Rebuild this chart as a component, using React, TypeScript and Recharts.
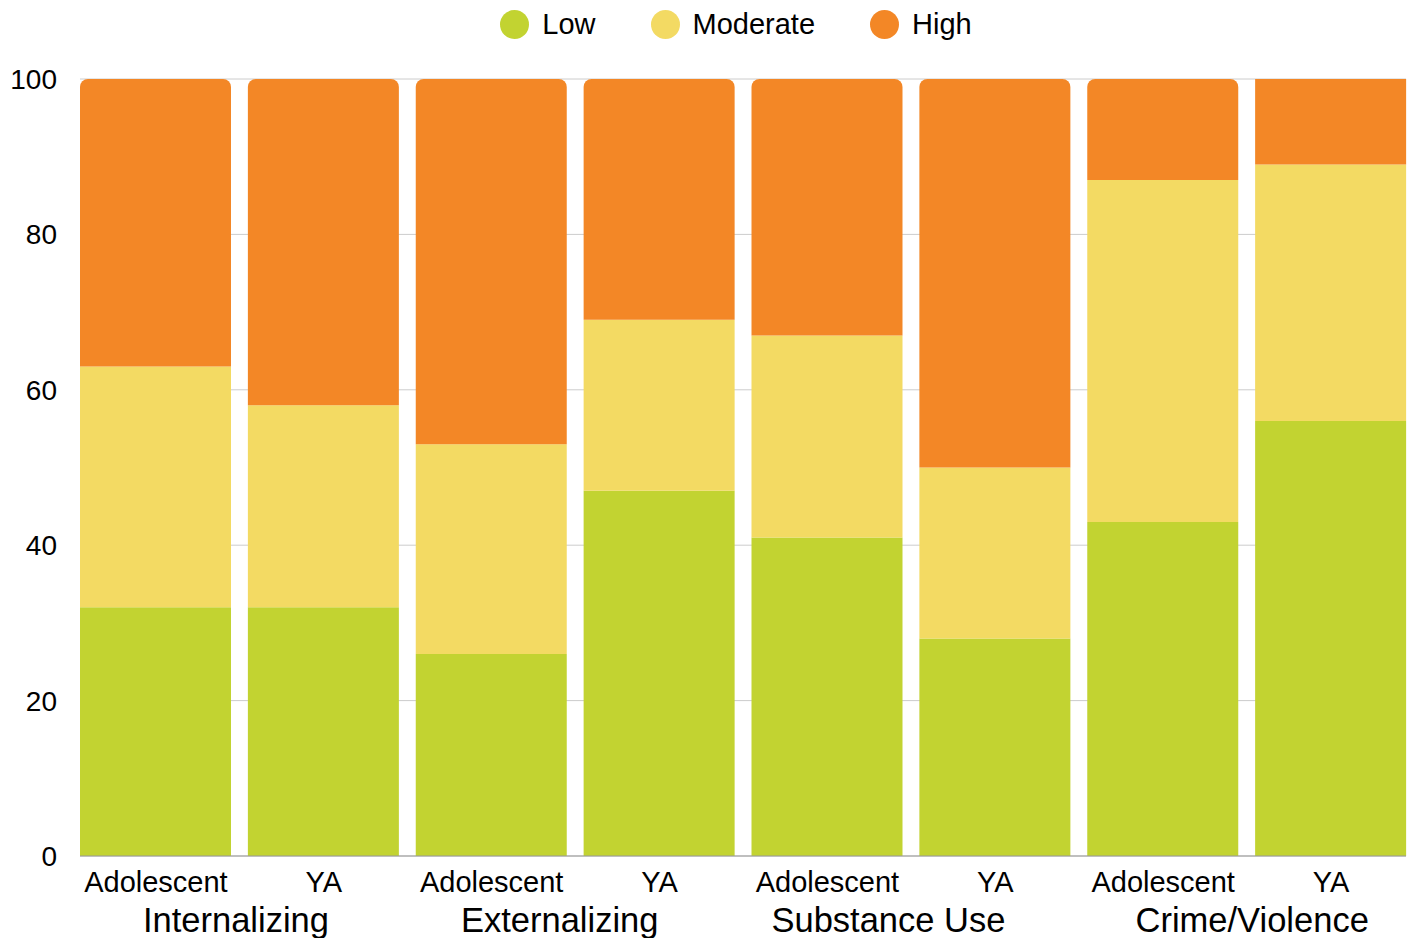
import React from 'react';
import { BarChart, Bar, XAxis, YAxis, CartesianGrid, Legend, Rectangle } from 'recharts';

const groups = ['Internalizing', 'Internalizing', 'Externalizing', 'Externalizing', 'Substance Use', 'Substance Use', 'Crime/Violence', 'Crime/Violence'];
const subgroups = ['Adolescent', 'YA', 'Adolescent', 'YA', 'Adolescent', 'YA', 'Adolescent', 'YA'];
const lowValues = [32, 32, 26, 47, 41, 28, 43, 56];
const moderateValues = [31, 26, 27, 22, 26, 22, 44, 33];
const highValues = [37, 42, 47, 31, 33, 50, 13, 11];
const yTicks = [0, 20, 40, 60, 80, 100];

// horizontal offset of each group label from the first bar's centre (layout only)
const groupLabelShift = [80, 68, 61, 89];

const seriesNames = ['Low', 'Moderate', 'High'];
const COLORS = { Low: '#C2D331', Moderate: '#F3DA63', High: '#F38726' };
const FONT = '"Liberation Sans", Arial, sans-serif';

const data = subgroups.map((s, i) => ({
  sub: s,
  group: groups[i],
  Low: lowValues[i],
  Moderate: moderateValues[i],
  High: highValues[i],
}));

const HighShape = (props: any) => {
  const last = props.index === data.length - 1;
  return <Rectangle {...props} radius={last ? 0 : [8, 8, 0, 0]} />;
};

const GroupTick = (props: any) => {
  const { x, y, payload, index } = props;
  const idx = payload && payload.index !== undefined ? payload.index : index;
  if (idx % 2 !== 0) return null;
  const shift = groupLabelShift[Math.floor(idx / 2)] ?? 84;
  return (
    <text x={x + shift} y={y} dy="0.71em" textAnchor="middle" fill="#000" fontSize={34.5} fontFamily={FONT}>
      {payload.value}
    </text>
  );
};

const LegendContent = () => (
  <div style={{ display: 'flex', justifyContent: 'center', alignItems: 'center', height: 48, paddingLeft: 61, fontFamily: FONT }}>
    {seriesNames.map((n, i) => (
      <div key={n} style={{ display: 'flex', alignItems: 'center', marginRight: i < seriesNames.length - 1 ? 55 : 0 }}>
        <span style={{ display: 'inline-block', width: 29, height: 29, borderRadius: '50%', background: (COLORS as any)[n], marginRight: 13 }} />
        <span style={{ fontSize: 29, color: '#000', lineHeight: '29px' }}>{n}</span>
      </div>
    ))}
  </div>
);

export default function App() {
  return (
    <div style={{ position: 'absolute', left: 0, top: 0, width: 1411, height: 938, background: '#fff' }}>
      <BarChart width={1411} height={938} data={data} margin={{ top: 31, right: 5, bottom: 0, left: 0 }}>
        <CartesianGrid vertical={false} stroke="#cccccc" />
        <Legend verticalAlign="top" content={<LegendContent />} wrapperStyle={{ top: 0, left: 0, width: 1411 }} />
        <YAxis
          domain={[0, 100]}
          ticks={yTicks}
          width={80}
          axisLine={false}
          tickLine={false}
          tickMargin={17}
          tick={{ fill: '#000', fontSize: 28, fontFamily: FONT }}
        />
        <XAxis
          dataKey="sub"
          interval={0}
          height={44}
          padding={{ left: -8, right: -9 }}
          axisLine={{ stroke: '#999' }}
          tickLine={false}
          tickMargin={9}
          tick={{ fill: '#000', fontSize: 29, fontFamily: FONT }}
        />
        <XAxis
          xAxisId="grp"
          dataKey="group"
          interval={0}
          height={38}
          padding={{ left: -8, right: -9 }}
          axisLine={false}
          tickLine={false}
          tick={<GroupTick />}
        />
        <Bar dataKey="Low" stackId="a" fill={COLORS.Low} barSize={151} isAnimationActive={false} />
        <Bar dataKey="Moderate" stackId="a" fill={COLORS.Moderate} barSize={151} isAnimationActive={false} />
        <Bar dataKey="High" stackId="a" fill={COLORS.High} barSize={151} isAnimationActive={false} shape={<HighShape />} />
      </BarChart>
    </div>
  );
}
